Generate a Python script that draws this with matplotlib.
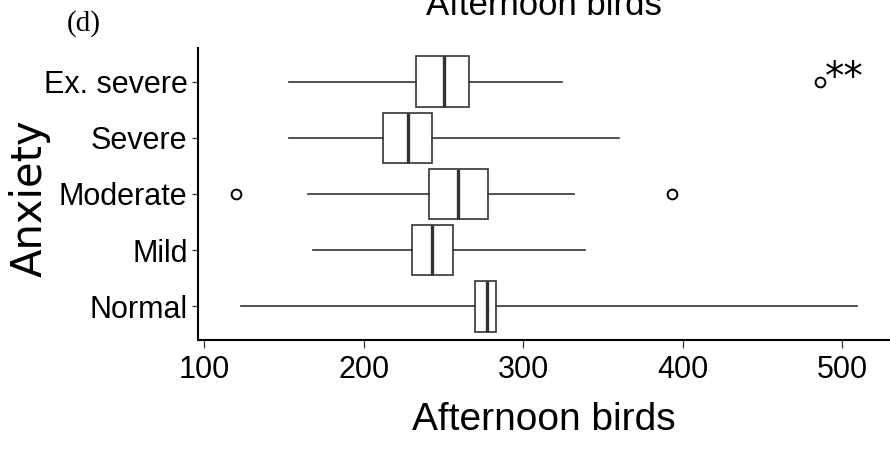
import matplotlib
matplotlib.use("Agg")
import matplotlib.pyplot as plt
from matplotlib import font_manager

# box statistics (Afternoon birds by anxiety level)
levels = ["Normal", "Mild", "Moderate", "Severe", "Ex. severe"]
whislo = [123, 168, 165, 153, 153]
q1 = [270, 230, 241, 212, 233]
med = [277, 243, 259, 228, 250]
q3 = [283, 256, 278, 243, 266]
whishi = [509, 339, 332, 360, 324]
outliers = [[], [], [120, 393], [], [486]]
xticks = [100, 200, 300, 400, 500]

installed = {f.name for f in font_manager.fontManager.ttflist}
narrow = "Liberation Sans Narrow" if "Liberation Sans Narrow" in installed else "Liberation Sans"

fig = plt.figure(figsize=(8.9, 4.49), dpi=100)
ax = fig.add_axes([198 / 890, 1 - 340 / 449, 692 / 890, 292 / 449])

stats = []
for i in range(len(levels)):
    stats.append(dict(label=levels[i], whislo=whislo[i], q1=q1[i], med=med[i],
                      q3=q3[i], whishi=whishi[i], fliers=outliers[i]))

grey = "#333333"
ax.bxp(stats, positions=range(1, len(levels) + 1), orientation="horizontal",
       widths=0.9, showcaps=False, patch_artist=True,
       boxprops=dict(facecolor="white", edgecolor=grey, linewidth=1.2),
       whiskerprops=dict(color=grey, linewidth=1.2),
       medianprops=dict(color=grey, linewidth=2.4),
       flierprops=dict(marker="o", markerfacecolor="none", markeredgecolor="black",
                       markersize=7, markeredgewidth=1.4))

ax.set_xlim(96, 530)
ax.set_ylim(0.4, 5.6)
ax.set_xticks(xticks)
ax.set_xticklabels([str(t) for t in xticks])
ax.set_yticks(range(1, len(levels) + 1))
ax.set_yticklabels(levels)

for s in ["top", "right"]:
    ax.spines[s].set_visible(False)
for s in ["left", "bottom"]:
    ax.spines[s].set_linewidth(1.5)
    ax.spines[s].set_color("black")

ax.tick_params(axis="x", length=6, width=0.9, color=grey, pad=5)
ax.tick_params(axis="y", length=4.5, width=0.9, color=grey, pad=3)
for lab in ax.get_yticklabels():
    lab.set_fontfamily(narrow)
    lab.set_fontsize(22)
for lab in ax.get_xticklabels():
    lab.set_fontfamily(narrow)
    lab.set_fontsize(22)

ax.set_xlabel("Afternoon birds", fontfamily=narrow, fontsize=28, labelpad=12)
fig.text(30 / 890, 1 - 198 / 449, "Anxiety", rotation=90, ha="center", va="center",
         fontfamily="DejaVu Sans", fontsize=30)

# title is cut off by the top edge in the reference
fig.text(544 / 890, 1 - 15 / 449, "Afternoon birds", ha="center", va="baseline",
         fontfamily="Liberation Sans", fontsize=25)
fig.text(67 / 890, 1 - 31 / 449, "(d)", ha="left", va="baseline",
         fontfamily="Liberation Serif", fontsize=21)

# significance mark next to the Ex. severe outlier
ax.text(489, 4.87, "**", ha="left", va="baseline", fontfamily="DejaVu Sans", fontsize=28)

fig.savefig("out.png", dpi=100)
